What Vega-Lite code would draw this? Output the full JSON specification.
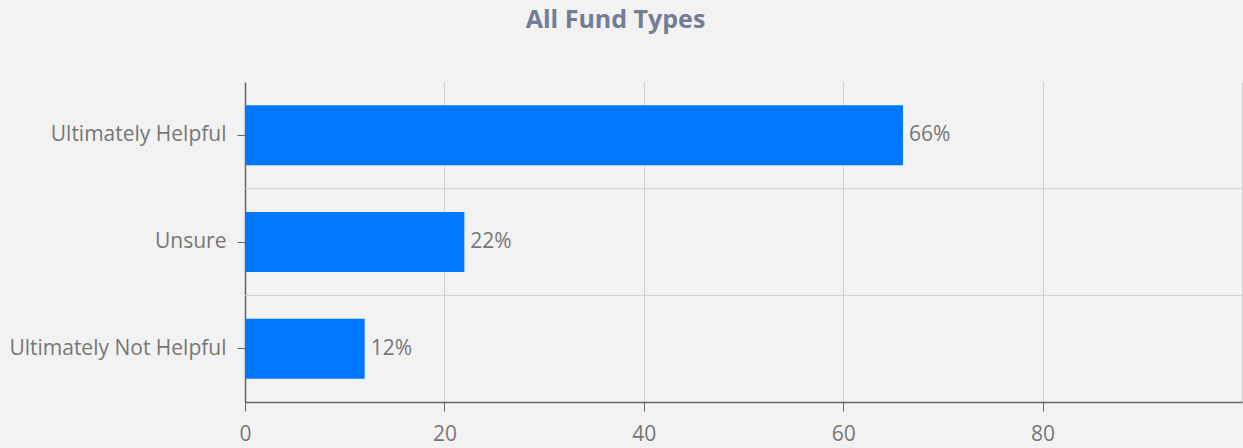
{
  "$schema": "https://vega.github.io/schema/vega-lite/v6.json",
  "width": 997,
  "height": 320,
  "autosize": {"type": "none"},
  "padding": {"left": 245, "top": 82, "right": 1, "bottom": 46},
  "background": "#f2f2f2",
  "title": {
    "text": "All Fund Types",
    "font": "Open Sans",
    "fontSize": 25,
    "fontWeight": "bold",
    "color": "#737d94",
    "anchor": "middle",
    "frame": "group",
    "dx": -128,
    "offset": 49
  },
  "config": {
    "view": {"stroke": null},
    "axis": {
      "labelFont": "Open Sans",
      "labelFontSize": 21,
      "labelColor": "#777777",
      "domainColor": "#666666",
      "tickColor": "#666666",
      "gridColor": "#cfcfcf",
      "titleFont": "Open Sans",
      "labelLimit": 0
    }
  },
  "data": {
    "values": [
      {"category": "Ultimately Helpful", "value": 66, "label": "66%"},
      {"category": "Unsure", "value": 22, "label": "22%"},
      {"category": "Ultimately Not Helpful", "value": 12, "label": "12%"}
    ]
  },
  "encoding": {
    "y": {
      "field": "category",
      "type": "nominal",
      "sort": ["Ultimately Helpful", "Unsure", "Ultimately Not Helpful"],
      "scale": {
        "domain": ["Ultimately Helpful", "Unsure", "Ultimately Not Helpful"],
        "paddingInner": 0.4375,
        "paddingOuter": 0.21875
      },
      "axis": {
        "title": null,
        "orient": "left",
        "grid": false,
        "tickSize": 8,
        "labelPadding": 11,
        "domainWidth": 1.5
      }
    }
  },
  "layer": [
    {
      "transform": [{"filter": "datum.category != 'Ultimately Helpful'"}],
      "mark": {"type": "rule", "color": "#cfcfcf", "strokeWidth": 1},
      "encoding": {
        "y": {
          "field": "category",
          "type": "nominal",
          "sort": ["Ultimately Helpful", "Unsure", "Ultimately Not Helpful"],
          "bandPosition": -0.3889
        }
      }
    },
    {
      "mark": {"type": "bar", "color": "#0077ff"},
      "encoding": {
        "x": {
          "field": "value",
          "type": "quantitative",
          "scale": {"domain": [0, 100], "nice": false},
          "axis": {
            "title": null,
            "values": [0, 20, 40, 60, 80, 100],
            "labelExpr": "datum.value == 100 ? '' : datum.label",
            "tickOpacity": {"condition": {"test": "datum.value == 100", "value": 0}, "value": 1},
            "tickSize": 9,
            "labelPadding": 12,
            "labelFlush": false,
            "grid": true,
            "domainWidth": 1.5
          }
        }
      }
    },
    {
      "mark": {
        "type": "text",
        "align": "left",
        "dx": 6,
        "font": "Open Sans",
        "fontSize": 21,
        "color": "#777777"
      },
      "encoding": {
        "x": {"field": "value", "type": "quantitative"},
        "text": {"field": "label"}
      }
    }
  ]
}
